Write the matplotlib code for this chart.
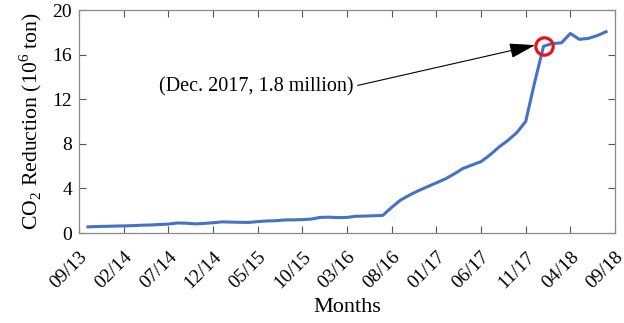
import numpy as np
import pandas as pd
import matplotlib
matplotlib.use('Agg')
import matplotlib.pyplot as plt
from matplotlib.transforms import ScaledTranslation

plt.rcParams['font.family'] = ['Liberation Serif', 'DejaVu Serif']
plt.rcParams['mathtext.fontset'] = 'custom'
plt.rcParams['mathtext.rm'] = 'Liberation Serif'

# monthly cumulative CO2 reduction, 10/2013 .. 08/2018 (10^6 ton)
months = pd.period_range('2013-10', '2018-08', freq='M')
reduction = [0.55, 0.58, 0.60, 0.62, 0.64, 0.66, 0.70, 0.72, 0.76, 0.80,
             0.90, 0.88, 0.82, 0.86, 0.92, 1.00, 0.98, 0.96, 0.95, 1.02,
             1.08, 1.10, 1.17, 1.18, 1.20, 1.25, 1.40, 1.42, 1.38, 1.40,
             1.50, 1.52, 1.55, 1.58, 2.30, 2.96, 3.40, 3.80, 4.15, 4.50,
             4.85, 5.30, 5.80, 6.10, 6.40, 7.00, 7.70, 8.30, 9.00, 10.00,
             13.50, 16.75, 17.00, 17.05, 17.90, 17.37, 17.45, 17.70, 18.05]
tick_labels = ['09/13', '02/14', '07/14', '12/14', '05/15', '10/15', '03/16',
               '08/16', '01/17', '06/17', '11/17', '04/18', '09/18']
highlight = pd.Period('2018-01', freq='M')
note = '(Dec. 2017, 1.8 million)'

start = pd.Period('2013-09', freq='M')
x = np.array([(m - start).n for m in months])
y = np.array(reduction)

fig = plt.figure(figsize=(6.24, 3.23), dpi=100)
ax = fig.add_axes([0.1266, 0.2786, 0.8590, 0.6904])

ax.plot(x, y, color='#4472C4', lw=2.2)

hx = (highlight - start).n
hy = y[x == hx][0]
ax.plot(hx, hy, 'o', ms=12.5, mfc='none', mec='#E8141B', mew=2.3)
ax.annotate(note, xy=(hx - 0.95, hy + 0.1), xytext=(8.95, 13.15),
            fontsize=14.5, va='center', ha='left',
            arrowprops=dict(arrowstyle='-|>,head_length=1.1,head_width=0.32',
                            color='k', lw=0.8, relpos=(1.0, 0.5),
                            shrinkA=1, shrinkB=0))

ax.set_xlim(0, 60)
ax.set_ylim(0, 20)
ax.set_xticks(np.arange(0, 61, 5))
ax.set_xticklabels(tick_labels, rotation=45, ha='right', va='top')
ax.set_yticks(np.arange(0, 21, 4))
ax.tick_params(direction='in', top=True, right=True, length=5, width=0.8,
               color='#555555', labelsize=14)
ax.tick_params(axis='y', pad=5)
ax.tick_params(axis='x', pad=11)
# nudge rotated month labels to the right of their ticks
shift = ScaledTranslation(12 / 100, 0, fig.dpi_scale_trans)
for lab in ax.get_xticklabels():
    lab.set_transform(lab.get_transform() + shift)
for s in ax.spines.values():
    s.set_color('#8a8a8a')
    s.set_linewidth(0.9)

ax.set_xlabel('Months', fontsize=16, labelpad=4)
ax.set_ylabel('CO$_2$ Reduction (10$^6$ ton)', fontsize=15.7, labelpad=6)

fig.savefig('out.png', dpi=100)
